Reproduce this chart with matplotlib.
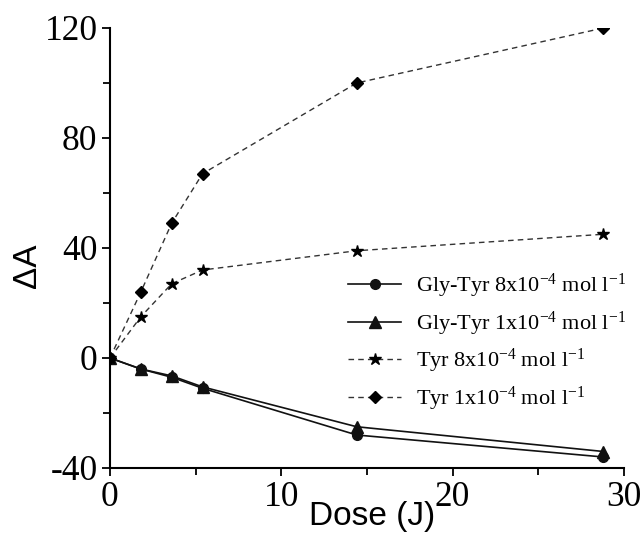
import matplotlib
matplotlib.use("Agg")
import matplotlib.pyplot as plt
from matplotlib.ticker import MultipleLocator, FuncFormatter

dose = [0, 1.8, 3.6, 5.4, 14.4, 28.8]
gly_tyr_8 = [0, -4, -7, -11, -28, -36]
gly_tyr_1 = [0, -4, -6.5, -10.5, -25, -34]
tyr_8 = [0, 15, 27, 32, 39, 45]
tyr_1 = [0, 24, 49, 67, 100, 120]

labels = [
    r"Gly-Tyr 8x10$^{-4}$ mol l$^{-1}$",
    r"Gly-Tyr 1x10$^{-4}$ mol l$^{-1}$",
    r"Tyr 8x10$^{-4}$ mol l$^{-1}$",
    r"Tyr 1x10$^{-4}$ mol l$^{-1}$",
]

plt.rcParams['mathtext.fontset'] = 'custom'
plt.rcParams['mathtext.rm'] = 'Liberation Serif'
plt.rcParams['mathtext.default'] = 'rm'
plt.rcParams['axes.unicode_minus'] = False

fig = plt.figure(figsize=(6.41, 5.34), dpi=100)
# axes: x 110..624 px, y 28..468 px
ax = fig.add_axes([110/641, 66/534, 514/641, 440/534])

ax.plot(dose, gly_tyr_8, '-', color='#111111', lw=1.2, marker='o', ms=7, label=labels[0])
ax.plot(dose, gly_tyr_1, '-', color='#111111', lw=1.2, marker='^', ms=8, label=labels[1])
ax.plot(dose, tyr_8, '--', color='#333333', lw=1.0, marker='*', ms=9, mfc='black', mec='black', label=labels[2], dashes=(4, 3))
ax.plot(dose, tyr_1, '--', color='#333333', lw=1.0, marker='D', ms=6.5, mfc='black', mec='black', label=labels[3], dashes=(4, 3))

ax.set_xlim(0, 30)
ax.set_ylim(-40, 120)
ax.xaxis.set_major_locator(MultipleLocator(10))
ax.xaxis.set_minor_locator(MultipleLocator(5))
ax.yaxis.set_major_locator(MultipleLocator(40))
ax.yaxis.set_minor_locator(MultipleLocator(20))
fmt = FuncFormatter(lambda v, p: "%d" % round(v))
ax.xaxis.set_major_formatter(fmt)
ax.yaxis.set_major_formatter(fmt)

for s in ['top', 'right']:
    ax.spines[s].set_visible(False)
for s in ['left', 'bottom']:
    ax.spines[s].set_linewidth(1.5)

ax.tick_params(which='major', direction='out', length=6, width=1.3, labelsize=25.5)
ax.tick_params(axis='x', which='major', pad=3)
ax.tick_params(axis='y', which='major', pad=3)
ax.tick_params(which='minor', direction='out', length=5, width=1.3)
for lab in ax.get_xticklabels() + ax.get_yticklabels():
    lab.set_fontfamily('Liberation Serif')

ax.set_xlabel("Dose (J)", fontsize=24, fontfamily='Liberation Sans')
ax.xaxis.set_label_coords(0.509, -0.074)
ax.set_ylabel("ΔA", fontsize=24, fontfamily='Liberation Sans')
ax.yaxis.set_label_coords(-0.13, 0.46)

leg = ax.legend(loc='upper left', bbox_to_anchor=((348 - 110) / 514, (468 - 272) / 440),
                frameon=False, borderpad=0, borderaxespad=0,
                prop={'family': 'Liberation Serif', 'size': 16}, handlelength=2.4,
                labelspacing=0.42, handletextpad=0.65)

fig.savefig("out.png", dpi=100)
